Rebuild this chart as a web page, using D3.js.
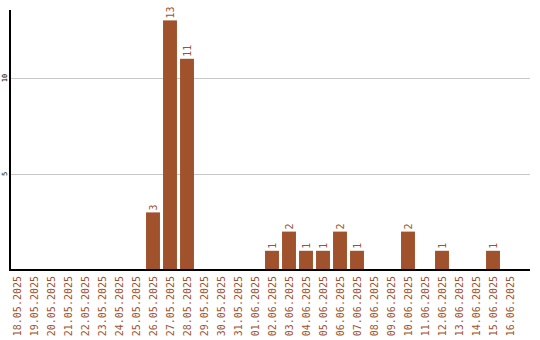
<!DOCTYPE html>
<html>
<head>
<meta charset="utf-8">
<script src="https://cdn.jsdelivr.net/npm/d3@7"></script>
<style>
  body { margin: 0; background: #fff; }
  svg { display: block; }
  text { font-family: "DejaVu Sans Mono", monospace; }
</style>
</head>
<body>
<div id="chart"></div>
<script>
// Tage und Anzahl pro Tag
const dates = [
    "18.05.2025", "19.05.2025", "20.05.2025", "21.05.2025", "22.05.2025",
    "23.05.2025", "24.05.2025", "25.05.2025", "26.05.2025", "27.05.2025",
    "28.05.2025", "29.05.2025", "30.05.2025", "31.05.2025", "01.06.2025",
    "02.06.2025", "03.06.2025", "04.06.2025", "05.06.2025", "06.06.2025",
    "07.06.2025", "08.06.2025", "09.06.2025", "10.06.2025", "11.06.2025",
    "12.06.2025", "13.06.2025", "14.06.2025", "15.06.2025", "16.06.2025"
];
const counts = [
    0, 0, 0, 0, 0, 0, 0, 0, 3, 13,
    11, 0, 0, 0, 0, 1, 2, 1, 1, 2,
    1, 0, 0, 2, 0, 1, 0, 0, 1, 0
];
const yTicks = [5, 10];

const W = 540, H = 340;
const plotLeft = 10, plotRight = 530, plotTop = 10, plotBottom = 270;
const color = "#a0522d";

const svg = d3.select("#chart").append("svg")
    .attr("width", W)
    .attr("height", H);

const x = d3.scaleBand()
    .domain(dates)
    .range([8.5, 518.5])
    .paddingInner(0.18)
    .paddingOuter(0.09);

const y = d3.scaleLinear()
    .domain([0, 10])
    .range([plotBottom, plotBottom - 192]);

// Gitterlinien
svg.append("g")
    .selectAll("line")
    .data(yTicks)
    .join("line")
    .attr("x1", plotLeft)
    .attr("x2", plotRight)
    .attr("y1", d => Math.round(y(d)) + 0.5)
    .attr("y2", d => Math.round(y(d)) + 0.5)
    .attr("stroke", "#c8c8c8")
    .attr("stroke-width", 1);

// Y-Beschriftung (gedreht)
svg.append("g")
    .selectAll("text")
    .data(yTicks)
    .join("text")
    .attr("transform", d => `translate(7,${y(d)}) rotate(-90)`)
    .attr("text-anchor", "middle")
    .attr("font-size", 7)
    .attr("fill", "#000")
    .text(d => d);

// Balken
const data = dates.map((d, i) => ({ date: d, n: counts[i] }));

svg.append("g")
    .selectAll("rect")
    .data(data.filter(d => d.n > 0))
    .join("rect")
    .attr("x", d => x(d.date))
    .attr("y", d => y(d.n))
    .attr("width", x.bandwidth())
    .attr("height", d => y(0) - y(d.n))
    .attr("fill", color);

// Werte über den Balken
svg.append("g")
    .selectAll("text")
    .data(data.filter(d => d.n > 0))
    .join("text")
    .attr("transform", d => `translate(${x(d.date) + x.bandwidth() / 2 + 4},${y(d.n) - 2}) rotate(-90)`)
    .attr("text-anchor", "start")
    .attr("font-size", 10)
    .attr("fill", color)
    .text(d => d.n);

// Achsen
svg.append("line")
    .attr("x1", plotLeft).attr("x2", plotLeft)
    .attr("y1", plotTop).attr("y2", plotBottom + 1)
    .attr("stroke", "#000").attr("stroke-width", 2);

svg.append("line")
    .attr("x1", plotLeft).attr("x2", plotRight)
    .attr("y1", plotBottom).attr("y2", plotBottom)
    .attr("stroke", "#000").attr("stroke-width", 2);

// X-Beschriftung (Datum, gedreht)
svg.append("g")
    .selectAll("text")
    .data(dates)
    .join("text")
    .attr("transform", d => `translate(${x(d) + x.bandwidth() / 2 + 4},276) rotate(-90)`)
    .attr("text-anchor", "end")
    .attr("font-size", 10)
    .attr("fill", color)
    .text(d => d);
</script>
</body>
</html>
